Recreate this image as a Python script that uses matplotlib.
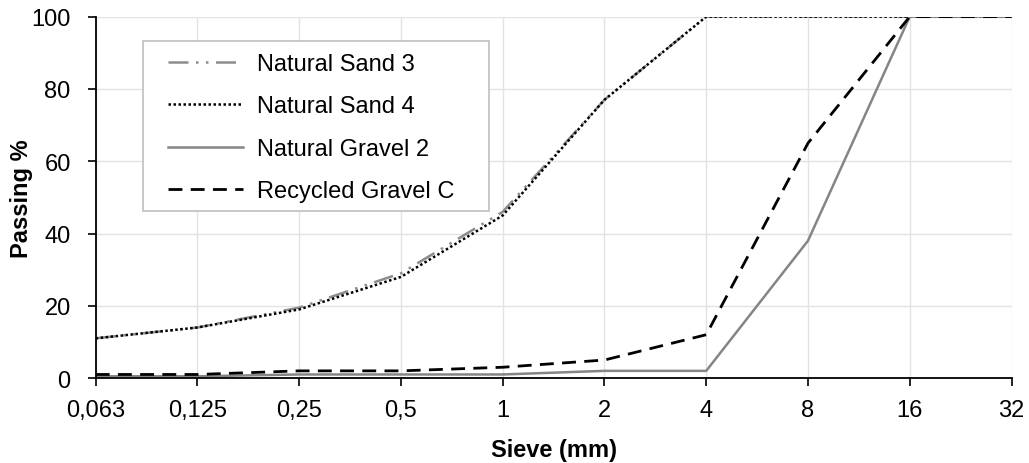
import matplotlib.pyplot as plt
from matplotlib.patches import Rectangle

plt.rcParams['font.family'] = ['Liberation Sans', 'DejaVu Sans']

# sieve sizes (mm) drawn as equally spaced categories
sieves = ['0,063', '0,125', '0,25', '0,5', '1', '2', '4', '8', '16', '32']

# passing percentages per material
sand3 = [11, 14, 19.5, 29, 46, 77, 100, 100, 100, 100]
sand4 = [11, 14, 19, 28, 45, 77, 100, 100, 100, 100]
gravel2 = [0.5, 0.5, 1, 1, 1, 2, 2, 38, 100, 100]
recycled_c = [1, 1, 2, 2, 3, 5, 12, 65, 100, 100]

fig, ax = plt.subplots(figsize=(10.29, 4.64), dpi=100)
x = range(len(sieves))

ax.plot(x, sand3, color='#8c8c8c', lw=1.8, dashes=(8, 3, 1, 3, 1, 3), label='Natural Sand 3')
ax.plot(x, sand4, color='black', lw=1.8, ls=(0, (1, 1)), label='Natural Sand 4')
ax.plot(x, gravel2, color='#858585', lw=1.8, label='Natural Gravel 2')
ax.plot(x, recycled_c, color='black', lw=2, dashes=(5, 3), label='Recycled Gravel C')

ax.set_xlim(0, len(sieves) - 1)
ax.set_ylim(0, 100)
ax.set_xticks(list(x))
ax.set_xticklabels(sieves)
ax.set_yticks(range(0, 101, 20))
ax.tick_params(labelsize=17, length=6, width=1.2, direction='out')
ax.tick_params(axis='x', pad=9)
ax.tick_params(axis='y', pad=12)

ax.grid(True, color='#e3e3e3', lw=1)
ax.set_axisbelow(True)
for s in ['top', 'right']:
    ax.spines[s].set_visible(False)
for s in ['left', 'bottom']:
    ax.spines[s].set_linewidth(1.3)

ax.set_xlabel('Sieve (mm)', fontsize=17, fontweight='bold', labelpad=12)
ax.set_ylabel('Passing %', fontsize=17, fontweight='bold')
ax.yaxis.set_label_coords(-0.069, 0.5)

# legend box drawn separately so its padding can differ per side
ax.add_patch(Rectangle((0.0514, 0.4626), 0.3781, 0.4709, transform=ax.transAxes,
                       facecolor='white', edgecolor='#bfbfbf', lw=1.2, zorder=1))
ax.legend(loc='upper left', bbox_to_anchor=(0.0787, 0.9), borderaxespad=0,
          fontsize=17, frameon=False, handlelength=3.2, handletextpad=0.6,
          labelspacing=0.87, borderpad=0)

fig.subplots_adjust(left=0.093, right=0.983, top=0.962, bottom=0.183)
plt.savefig('out.png')
